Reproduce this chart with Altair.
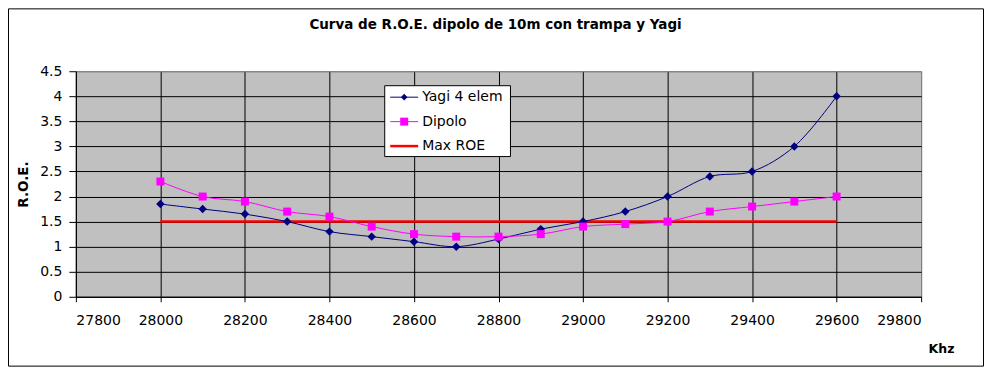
import altair as alt
import pandas as pd

# ---- data ----
khz = [28000, 28100, 28200, 28300, 28400, 28500, 28600, 28700, 28800,
       28900, 29000, 29100, 29200, 29300, 29400, 29500, 29600]
yagi = [1.85, 1.75, 1.65, 1.5, 1.3, 1.2, 1.1, 1.0, 1.15,
        1.35, 1.5, 1.7, 2.0, 2.4, 2.5, 3.0, 4.0]
dipolo = [2.3, 2.0, 1.9, 1.7, 1.6, 1.4, 1.25, 1.2, 1.2,
          1.25, 1.4, 1.45, 1.5, 1.7, 1.8, 1.9, 2.0]
max_roe = [1.5] * len(khz)

series = ["Yagi 4 elem", "Dipolo", "Max ROE"]
colors = ["#000080", "#FF00FF", "#FF0000"]
x_ticks = [27800, 28000, 28200, 28400, 28600, 28800, 29000, 29200, 29400, 29600, 29800]
y_ticks = [0, 0.5, 1, 1.5, 2, 2.5, 3, 3.5, 4, 4.5]
title_text = "Curva de R.O.E. dipolo de 10m con trampa y Yagi"

rows = []
for name, vals in zip(series, [yagi, dipolo, max_roe]):
    for k, v in zip(khz, vals):
        rows.append({"khz": k, "roe": v, "serie": name})
df = pd.DataFrame(rows)

FONT = "DejaVu Sans"

x = alt.X(
    "khz:Q",
    scale=alt.Scale(domain=[27800, 29800], nice=False, zero=False),
    axis=alt.Axis(
        values=x_ticks, format="d", title="Khz", tickSize=5, labelPadding=12,
        titleFontSize=12.5, titleFontWeight="bold", titleX=854, titleY=56,
        titleAlign="left", titleBaseline="alphabetic",
        gridColor={"condition": {"test": "datum.value >= 29800", "value": "#808080"}, "value": "black"},
    ),
)
y = alt.Y(
    "roe:Q",
    scale=alt.Scale(domain=[0, 4.5], nice=False),
    axis=alt.Axis(
        values=y_ticks, format="~g", title="R.O.E.", tickSize=7, labelPadding=7,
        titleFontSize=13.5, titleFontWeight="bold", titleAngle=270,
        titleX=-48, titleY=113, titleAlign="center", titleBaseline="alphabetic",
        gridColor={"condition": {"test": "datum.value >= 4.5", "value": "#808080"}, "value": "black"},
    ),
)

base = alt.Chart(df).encode(x=x, y=y)
one = alt.Data(values=[{}])

frame = alt.Chart(one).mark_rect(
    fillOpacity=0, stroke="black", strokeWidth=1
).encode(x=alt.value(-67.5), x2=alt.value(909.5), y=alt.value(-62.5), y2=alt.value(295.5))

title = alt.Chart(alt.Data(values=[{"t": title_text}])).mark_text(
    font=FONT, fontWeight="bold", fontSize=13.5, align="center", baseline="alphabetic", color="black"
).encode(text="t:N", x=alt.value(420.5), y=alt.value(-42.5))

maxline = base.transform_filter(alt.datum.serie == "Max ROE").mark_line(
    color="#FF0000", strokeWidth=2.5
)

curves = base.transform_filter(alt.datum.serie != "Max ROE").mark_line(
    interpolate="catmull-rom", strokeWidth=1
).encode(color=alt.Color("serie:N", scale=alt.Scale(domain=series, range=colors), legend=None))

yagi_pts = base.transform_filter(alt.datum.serie == "Yagi 4 elem").mark_point(
    shape="diamond", filled=True, size=72, color="#000080", opacity=1
)
dip_pts = base.transform_filter(alt.datum.serie == "Dipolo").mark_point(
    shape="square", filled=True, size=64, color="#FF00FF", opacity=1
)

# ---- legend box (drawn inside the plot, like the original) ----
leg_box = alt.Chart(one).mark_rect(
    fill="white", stroke="black", strokeWidth=1
).encode(x=alt.value(309.5), x2=alt.value(435.5), y=alt.value(14.5), y2=alt.value(85.5))

legend_layers = [leg_box]
row_y = [26, 50.5, 75]
line_w = [1, 1, 2.5]
markers = ["diamond", "square", None]
marker_size = [44, 64, 0]
for name, col, yy, lw, mk, ms in zip(series, colors, row_y, line_w, markers, marker_size):
    legend_layers.append(
        alt.Chart(one).mark_rule(color=col, strokeWidth=lw).encode(
            x=alt.value(315), x2=alt.value(343), y=alt.value(yy))
    )
    if mk:
        legend_layers.append(
            alt.Chart(one).mark_point(shape=mk, filled=True, size=ms, color=col, opacity=1).encode(
                x=alt.value(329), y=alt.value(yy))
        )
    legend_layers.append(
        alt.Chart(alt.Data(values=[{"t": name}])).mark_text(
            font=FONT, fontSize=14, align="left", baseline="middle", color="black"
        ).encode(text="t:N", x=alt.value(347), y=alt.value(yy))
    )

chart = alt.layer(frame, title, maxline, curves, yagi_pts, dip_pts, *legend_layers).properties(
    width=847, height=226,
    padding={"left": 68, "top": 63, "right": 63, "bottom": 70},
    autosize=alt.AutoSizeParams(type="none"),
    background="white",
).configure_view(
    fill="#C0C0C0", stroke="#808080", strokeWidth=1
).configure_axis(
    domainColor="black", tickColor="black", labelColor="black", titleColor="black",
    labelFont=FONT, labelFontSize=14, titleFont=FONT, gridWidth=1, domainWidth=1, tickWidth=1,
)

chart.save("out.html", embed_options={"renderer": "svg", "actions": False})
